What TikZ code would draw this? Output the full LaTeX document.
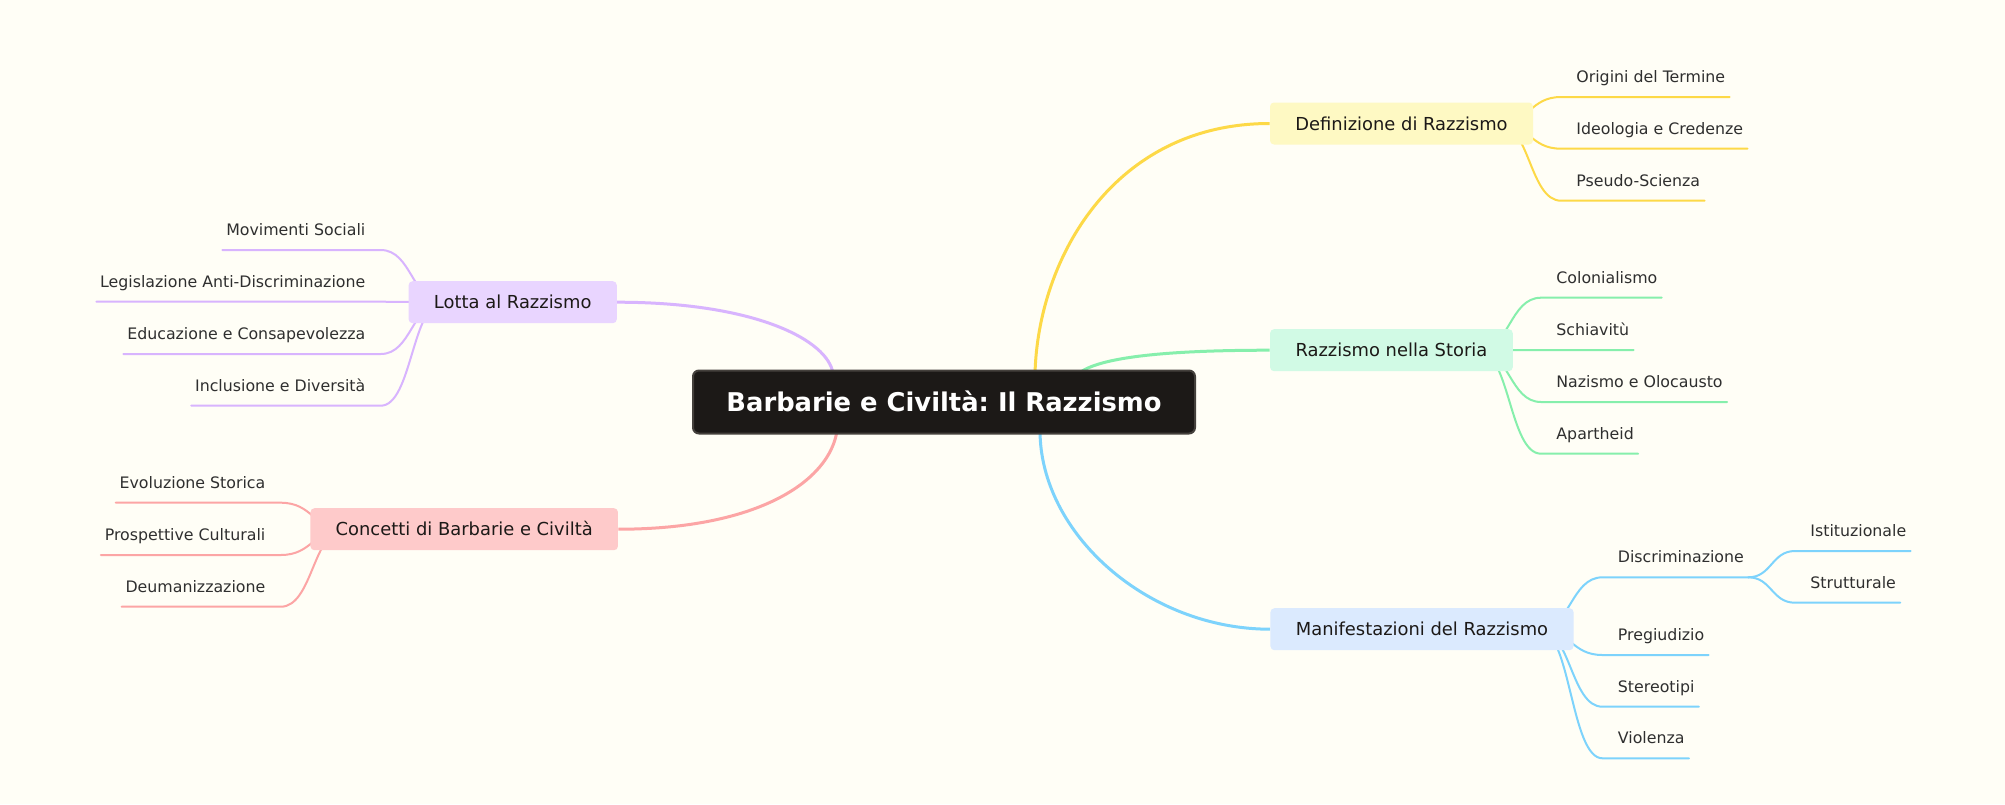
\documentclass[tikz,border=0pt]{standalone}
\usepackage{fontspec}
\setmainfont{DejaVu Sans}
\usetikzlibrary{calc}
\frenchspacing
\pgfdeclarelayer{back}
\pgfdeclarelayer{links}
\pgfsetlayers{back,links,main}
\definecolor{bgc}{HTML}{FFFEF6}
\definecolor{rootfill}{HTML}{1C1917}
\definecolor{rootborder}{HTML}{44403C}
\definecolor{ylw}{HTML}{FDD947}
\definecolor{grn}{HTML}{86EFAC}
\definecolor{blu}{HTML}{7DD3FC}
\definecolor{prp}{HTML}{D8B4FE}
\definecolor{pnk}{HTML}{FCA5A5}
\definecolor{ylwfill}{HTML}{FEF9C3}
\definecolor{grnfill}{HTML}{D1FAE5}
\definecolor{blufill}{HTML}{DBEAFE}
\definecolor{prpfill}{HTML}{E9D5FF}
\definecolor{pnkfill}{HTML}{FECACA}
\definecolor{boxtext}{HTML}{1C1917}
\definecolor{leaftext}{HTML}{2F2F2F}
\newcommand\mmR[3]{\draw[leafline=#1] let \p1=($(#2.east)+(-35,0)$), \p2=($(#3.base west)+(-15,14.5)$), \p3=($(#3.base east)+(4,14.5)$) in (\p1) .. controls ({(\x1+\x2)/2},\y1) and ({(\x1+\x2)/2},\y2) .. (\p2) -- (\p3);}
\newcommand\mmL[3]{\draw[leafline=#1] let \p1=($(#2.west)+(35,0)$), \p2=($(#3.base east)+(15,14.5)$), \p3=($(#3.base west)+(-3.5,14.5)$) in (\p1) .. controls ({(\x1+\x2)/2},\y1) and ({(\x1+\x2)/2},\y2) .. (\p2) -- (\p3);}
\newcommand\mmS[3]{\draw[leafline=#1] let \p1=($(#2.base east)+(4,14.5)$), \p2=($(#3.base west)+(-15,14.5)$), \p3=($(#3.base east)+(4,14.5)$) in (\p1) .. controls ({(\x1+\x2)/2},\y1) and ({(\x1+\x2)/2},\y2) .. (\p2) -- (\p3);}
\begin{document}
\begin{tikzpicture}[x=0.5pt,y=-0.5pt,
  rootbox/.style={draw=rootborder, line width=1pt, fill=rootfill, rounded corners=3pt,
    minimum width=251pt, minimum height=31.5pt, inner sep=0pt, text height=9.4pt, text depth=0pt,
    font=\bfseries\fontsize{12.9}{15}\selectfont, text=white},
  branchbox/.style={fill=#1, rounded corners=2pt, minimum height=21pt, inner sep=0pt,
    text height=6.5pt, text depth=0pt, font=\fontsize{8.95}{11}\selectfont, text=boxtext},
  leaf/.style={inner sep=0pt, font=\fontsize{7.9}{9.5}\selectfont, text=leaftext},
  leafline/.style={draw=#1, line width=1pt, line cap=round},
  mainline/.style={draw=#1, line width=1.5pt}]
\begin{pgfonlayer}{back}
\fill[bgc] (0,0) rectangle (2005,804);
\end{pgfonlayer}
\useasboundingbox (0,0) rectangle (2005,804);

% root and branches
\node[rootbox] (root) at (944,402) {Barbarie e Civiltà: Il Razzismo};
\node[branchbox=ylwfill, minimum width=131.5pt] (def) at (1401.5,123.5) {Definizione di Razzismo};
\node[branchbox=grnfill, minimum width=121.35pt] (sto) at (1391.4,350.2) {Razzismo nella Storia};
\node[branchbox=blufill, minimum width=151.55pt] (man) at (1422,629.2) {Manifestazioni del Razzismo};
\node[branchbox=prpfill, minimum width=104.1pt] (lot) at (512.7,302.2) {Lotta al Razzismo};
\node[branchbox=pnkfill, minimum width=153.75pt] (con) at (464.2,529.2) {Concetti di Barbarie e Civiltà};

% leaves right
\node[leaf, anchor=base west] (o1) at (1576,82.5) {Origini del Termine};
\node[leaf, anchor=base west] (o2) at (1576,134.2) {Ideologia e Credenze};
\node[leaf, anchor=base west] (o3) at (1576,186.2) {Pseudo-Scienza};
\node[leaf, anchor=base west] (r1) at (1556,283.2) {Colonialismo};
\node[leaf, anchor=base west] (r2) at (1556,335.5) {Schiavitù};
\node[leaf, anchor=base west] (r3) at (1556,387.5) {Nazismo e Olocausto};
\node[leaf, anchor=base west] (r4) at (1556,439.2) {Apartheid};
\node[leaf, anchor=base west] (m1) at (1617.5,562.8) {Discriminazione};
\node[leaf, anchor=base west] (m11) at (1810,536.5) {Istituzionale};
\node[leaf, anchor=base west] (m12) at (1810,588.2) {Strutturale};
\node[leaf, anchor=base west] (m2) at (1617.5,640.5) {Pregiudizio};
\node[leaf, anchor=base west] (m3) at (1617.5,692.2) {Stereotipi};
\node[leaf, anchor=base west] (m4) at (1617.5,743.8) {Violenza};
% leaves left
\node[leaf, anchor=base east] (l1) at (365.7,235.5) {Movimenti Sociali};
\node[leaf, anchor=base east] (l2) at (365.7,287.2) {Legislazione Anti-Discriminazione};
\node[leaf, anchor=base east] (l3) at (365.7,339.5) {Educazione e Consapevolezza};
\node[leaf, anchor=base east] (l4) at (365.7,391.2) {Inclusione e Diversità};
\node[leaf, anchor=base east] (c1) at (265.7,488.2) {Evoluzione Storica};
\node[leaf, anchor=base east] (c2) at (265.7,540.5) {Prospettive Culturali};
\node[leaf, anchor=base east] (c3) at (265.7,592.2) {Deumanizzazione};

\begin{pgfonlayer}{links}
% main links
\draw[mainline=ylw] ($(root.north)+(91,4)$) .. controls (1038,258) and (1114,123.5) .. (def.west);
\draw[mainline=grn] ($(root.north)+(136,3)$) .. controls (1100,358) and (1160,350.2) .. (sto.west);
\draw[mainline=blu] ($(root.south)+(96,-4)$) .. controls (1040,534) and (1148,629.2) .. (man.west);
\draw[mainline=prp] ($(root.north)+(-111,4)$) .. controls (828,340) and (755,302.2) .. (lot.east);
\draw[mainline=pnk] ($(root.south)+(-107,-4)$) .. controls (830,480) and (760,529.2) .. (con.east);
% leaf links
\mmR{ylw}{def}{o1}
\mmR{ylw}{def}{o2}
\mmR{ylw}{def}{o3}
\mmR{grn}{sto}{r1}
\mmR{grn}{sto}{r2}
\mmR{grn}{sto}{r3}
\mmR{grn}{sto}{r4}
\mmR{blu}{man}{m1}
\mmS{blu}{m1}{m11}
\mmS{blu}{m1}{m12}
\mmR{blu}{man}{m2}
\mmR{blu}{man}{m3}
\mmR{blu}{man}{m4}
\mmL{prp}{lot}{l1}
\mmL{prp}{lot}{l2}
\mmL{prp}{lot}{l3}
\mmL{prp}{lot}{l4}
\mmL{pnk}{con}{c1}
\mmL{pnk}{con}{c2}
\mmL{pnk}{con}{c3}
\end{pgfonlayer}
\end{tikzpicture}
\end{document}
